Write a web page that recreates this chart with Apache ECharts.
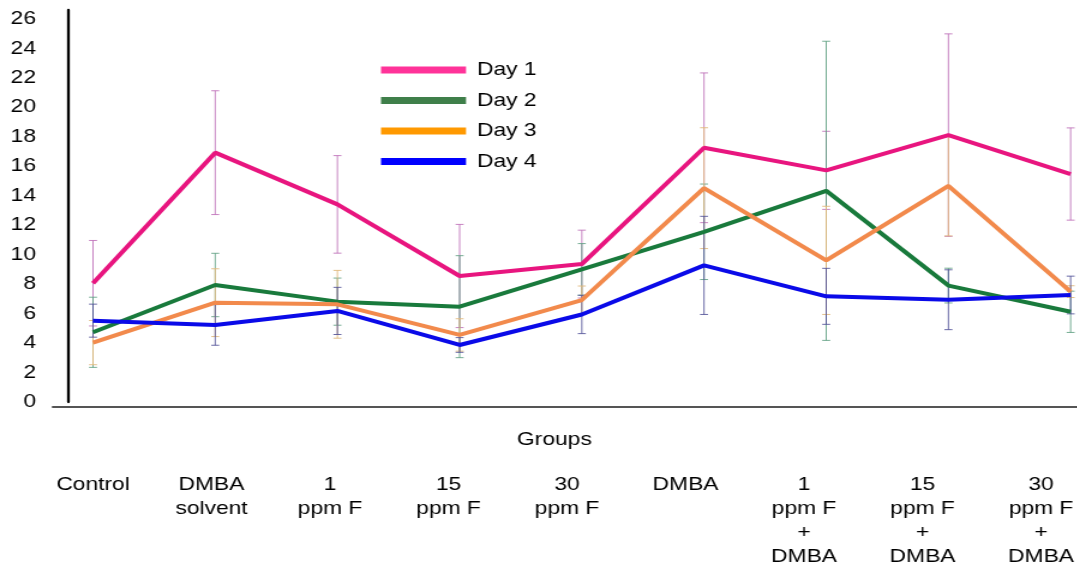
<!DOCTYPE html>
<html>
<head>
<meta charset="utf-8">
<script src="https://cdn.jsdelivr.net/npm/echarts@6/dist/echarts.min.js"></script>
<style>
  html, body { margin: 0; padding: 0; background: #fff; overflow: hidden; }
  /* The figure is laid out narrower and widened horizontally, giving the broad lettering */
  #chart { width: 897.5px; height: 569px; transform: scaleX(1.2); transform-origin: 0 0; }
</style>
</head>
<body>
<div id="chart"></div>
<script>
// Group names (one per point on the x axis) and their printed, wrapped labels
const categories = ['Control', 'DMBA solvent', '1 ppm F', '15 ppm F', '30 ppm F', 'DMBA',
  '1 ppm F + DMBA', '15 ppm F + DMBA', '30 ppm F + DMBA'];
const groupLabels = ['Control', 'DMBA\nsolvent', '1\nppm F', '15\nppm F', '30\nppm F', 'DMBA',
  '1\nppm F\n+\nDMBA', '15\nppm F\n+\nDMBA', '30\nppm F\n+\nDMBA'];

// Mean values per day
const day1 = [8.06, 16.92, 13.41, 8.55, 9.36, 17.25, 15.72, 18.11, 15.47];
const day2 = [4.73, 7.94, 6.81, 6.47, 9.0, 11.55, 14.33, 7.9, 6.12];
const day3 = [4.03, 6.74, 6.63, 4.55, 6.92, 14.51, 9.61, 14.67, 7.49];
const day4 = [5.52, 5.23, 6.18, 3.87, 5.94, 9.27, 7.17, 6.94, 7.26];

// Error (± half-range) per day
const day1Err = [2.9, 4.2, 3.31, 3.5, 2.3, 5.08, 2.65, 6.87, 3.13];
const day2Err = [2.38, 2.15, 1.6, 3.46, 1.75, 3.24, 10.15, 1.18, 1.4];
const day3Err = [1.5, 2.3, 2.3, 1.1, 0.95, 4.1, 3.67, 3.4, 0.4];
const day4Err = [1.12, 1.38, 1.6, 0.5, 1.3, 3.33, 1.9, 2.03, 1.28];

// Y axis ticks
const yMin = 0;
const yMax = 26.6;
const yStep = 2;

const FONT = "'Liberation Sans', Arial, sans-serif";

// Horizontal widening applied by the stylesheet; layout offsets are given in final pixels
const SX = 1.2;
function px(v) { return v / SX; }

const days = [
  { name: 'Day 1', values: day1, err: day1Err, line: '#e8157f', legend: '#ff3399', bar: 'rgba(190,110,185,0.85)' },
  { name: 'Day 2', values: day2, err: day2Err, line: '#197a3c', legend: '#3f7f4a', bar: 'rgba(95,160,130,0.85)' },
  { name: 'Day 3', values: day3, err: day3Err, line: '#f28a4c', legend: '#ff9900', bar: 'rgba(225,185,125,0.9)' },
  { name: 'Day 4', values: day4, err: day4Err, line: '#0a0ae8', legend: '#0000ff', bar: 'rgba(80,80,150,0.85)' }
];

function errorBarRenderer(color) {
  return function (params, api) {
    const i = api.value(0);
    const lo = api.coord([i, api.value(1)]);
    const hi = api.coord([i, api.value(2)]);
    const cap = px(4);
    const style = { stroke: color, lineWidth: 1 };
    return {
      type: 'group',
      children: [
        { type: 'line', shape: { x1: lo[0], y1: lo[1], x2: hi[0], y2: hi[1] }, style: style },
        { type: 'line', shape: { x1: lo[0] - cap, y1: lo[1], x2: lo[0] + cap, y2: lo[1] }, style: style },
        { type: 'line', shape: { x1: hi[0] - cap, y1: hi[1], x2: hi[0] + cap, y2: hi[1] }, style: style }
      ]
    };
  };
}

const series = [];
days.forEach(function (d) {
  series.push({
    name: d.name + ' error',
    type: 'custom',
    xAxisIndex: 0,
    yAxisIndex: 0,
    renderItem: errorBarRenderer(d.bar),
    encode: { x: 0, y: [1, 2] },
    data: d.values.map(function (v, i) { return [i, v - d.err[i], v + d.err[i]]; }),
    z: 1,
    silent: true
  });
});
days.forEach(function (d) {
  series.push({
    name: d.name,
    type: 'line',
    xAxisIndex: 0,
    yAxisIndex: 0,
    data: d.values,
    showSymbol: false,
    symbol: 'none',
    lineStyle: { color: d.line, width: 4 },
    itemStyle: { color: d.line },
    z: 3,
    animation: false
  });
});

const chart = echarts.init(document.getElementById('chart'), null, { renderer: 'canvas' });
chart.setOption({
  animation: false,
  backgroundColor: '#ffffff',
  textStyle: { fontFamily: FONT },
  title: {
    text: 'Groups',
    left: px(517),
    top: 430,
    padding: 0,
    textStyle: { fontFamily: FONT, fontSize: 19, fontWeight: 'normal', color: '#000' }
  },
  legend: {
    orient: 'vertical',
    left: px(381),
    top: 60,
    padding: 0,
    icon: 'rect',
    itemWidth: px(85),
    itemHeight: 7,
    itemGap: 10.5,
    itemStyle: { borderWidth: 0 },
    textStyle: { fontFamily: FONT, fontSize: 19, color: '#000', lineHeight: 20, padding: [0, 0, 0, px(11) - 5] },
    data: days.map(function (d) { return { name: d.name, itemStyle: { color: d.legend } }; })
  },
  grid: [
    { left: px(93), right: px(7), top: 10, bottom: 167 },
    { left: px(53), right: 0, top: 10, bottom: 162 },
    { left: px(93), right: px(32), top: 420, bottom: 109 }
  ],
  xAxis: [
    {
      gridIndex: 0,
      type: 'category',
      data: categories,
      boundaryGap: false,
      axisLine: { show: false },
      axisTick: { show: false },
      axisLabel: { show: false },
      splitLine: { show: false }
    },
    {
      gridIndex: 1,
      type: 'value',
      position: 'top',
      axisLine: { show: true, lineStyle: { color: '#7a7a7a', width: 2 } },
      axisTick: { show: false },
      axisLabel: { show: false },
      splitLine: { show: false }
    },
    {
      gridIndex: 1,
      type: 'value',
      position: 'bottom',
      axisLine: { show: true, lineStyle: { color: '#555555', width: 2 } },
      axisTick: { show: false },
      axisLabel: { show: false },
      splitLine: { show: false }
    },
    {
      gridIndex: 2,
      type: 'category',
      data: groupLabels,
      boundaryGap: false,
      axisLine: { show: false },
      axisTick: { show: false },
      splitLine: { show: false },
      axisLabel: {
        interval: 0,
        margin: 19,
        fontFamily: FONT,
        fontSize: 19,
        lineHeight: 24,
        color: '#000',
        align: 'center'
      }
    }
  ],
  yAxis: [
    {
      gridIndex: 0,
      type: 'value',
      min: yMin,
      max: yMax,
      interval: yStep,
      offset: px(25),
      axisLine: { show: true, onZero: false, lineStyle: { color: '#000', width: 2.3 } },
      axisTick: { show: false },
      splitLine: { show: false },
      axisLabel: {
        margin: px(32),
        fontFamily: FONT,
        fontSize: 19,
        color: '#000',
        formatter: function (v) { return (v % yStep === 0) ? String(v) : ''; }
      }
    },
    {
      gridIndex: 1,
      type: 'value',
      show: false
    },
    {
      gridIndex: 2,
      type: 'value',
      show: false
    }
  ],
  series: series
});
</script>
</body>
</html>
